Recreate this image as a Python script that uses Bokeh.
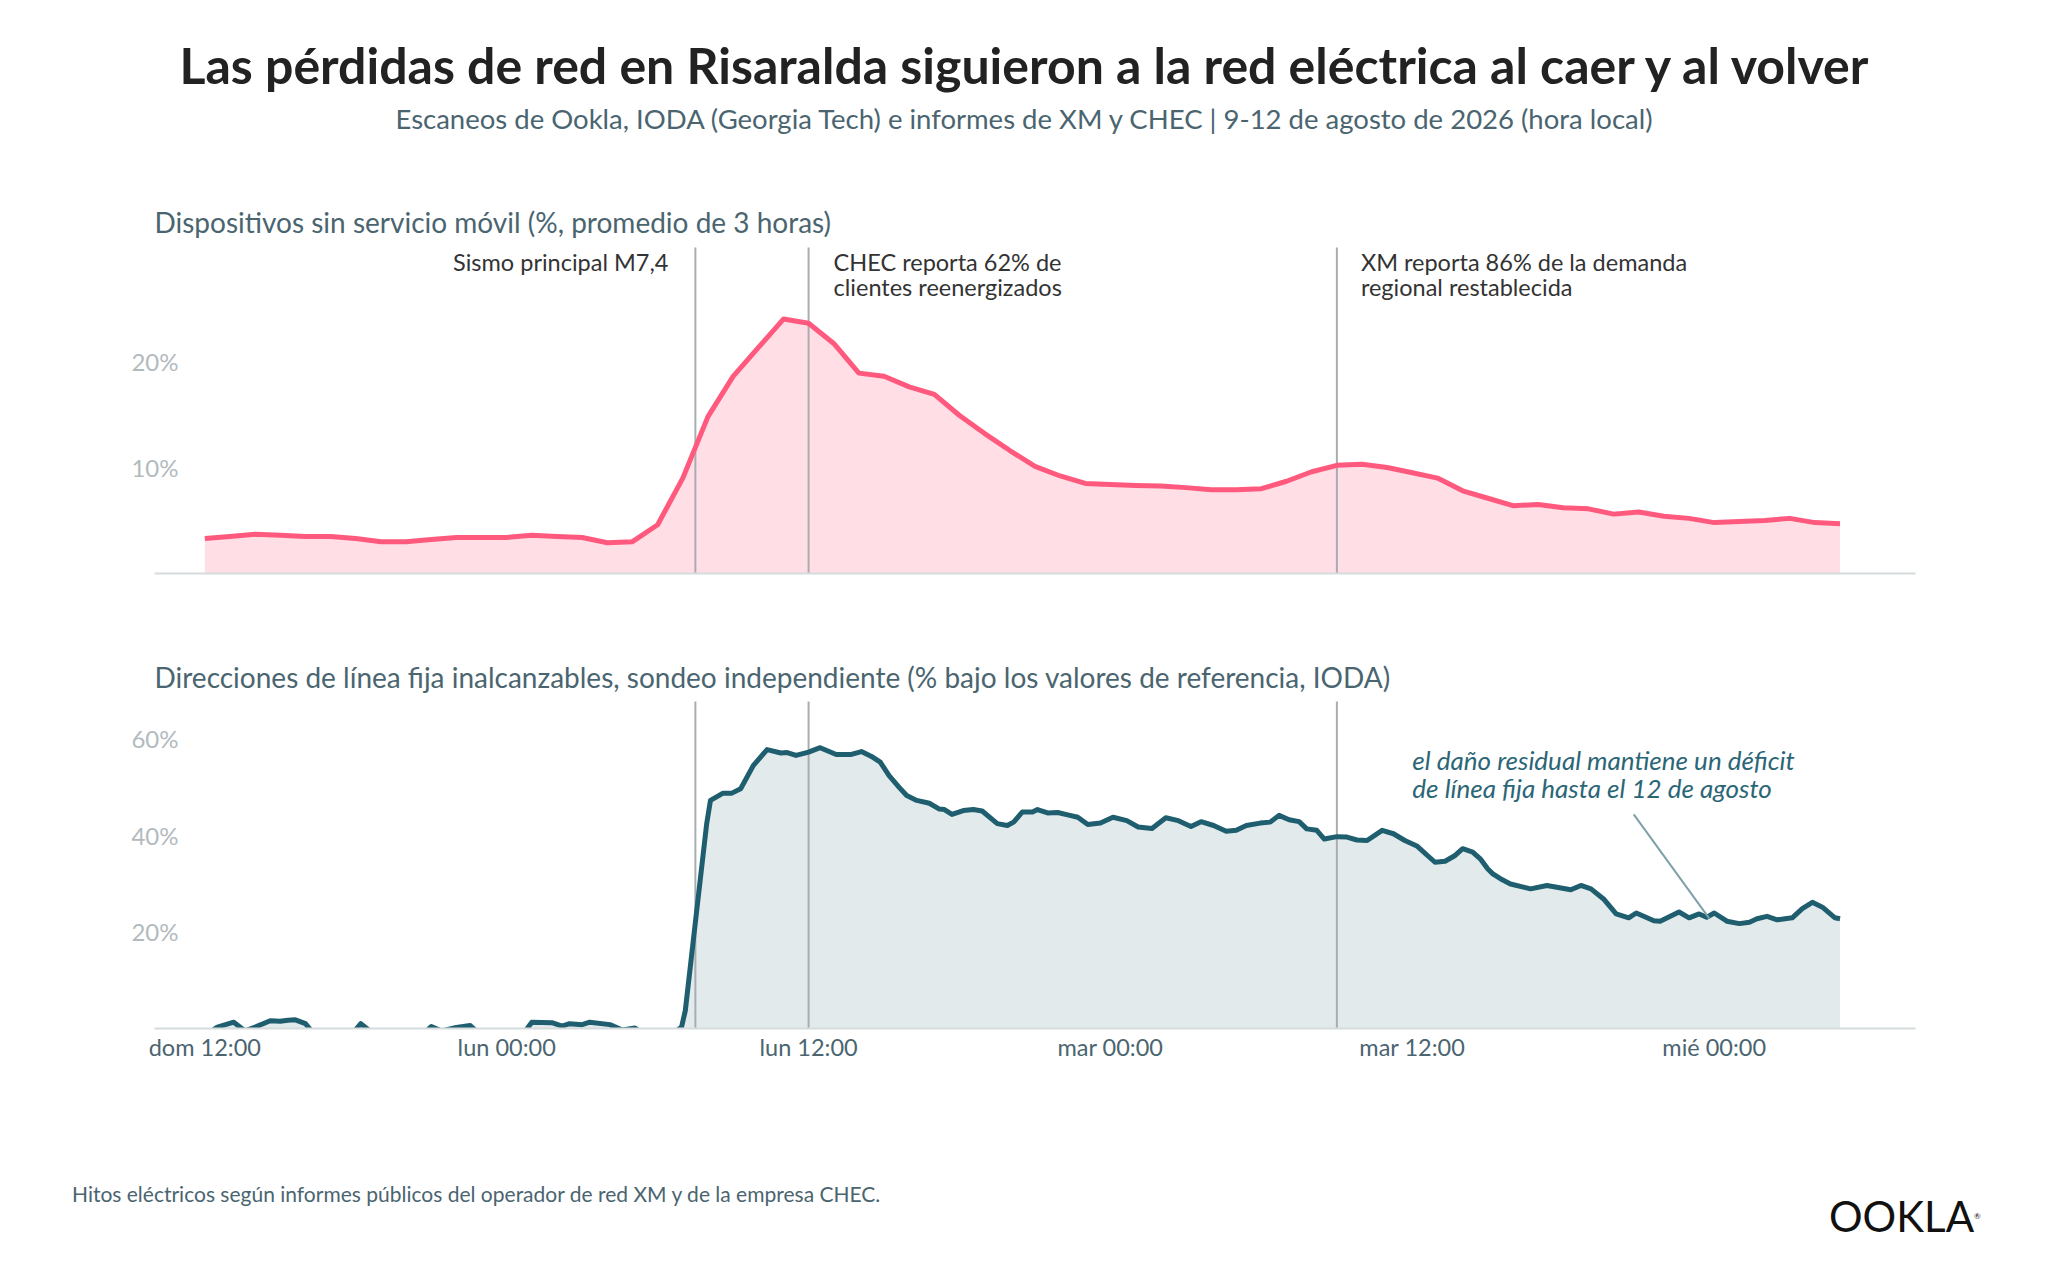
import math
from bokeh.plotting import figure
from bokeh.layouts import column
from bokeh.models import Div, Label, FixedTicker, PrintfTickFormatter, Range1d
from bokeh.embed import file_html
from bokeh.resources import INLINE

# ---------------- texts ----------------
TITLE = "Las pérdidas de red en Risaralda siguieron a la red eléctrica al caer y al volver"
SUBTITLE = "Escaneos de Ookla, IODA (Georgia Tech) e informes de XM y CHEC | 9-12 de agosto de 2026 (hora local)"
PANEL1_TITLE = "Dispositivos sin servicio móvil (%, promedio de 3 horas)"
PANEL2_TITLE = "Direcciones de línea fija inalcanzables, sondeo independiente (% bajo los valores de referencia, IODA)"
FOOTNOTE = "Hitos eléctricos según informes públicos del operador de red XM y de la empresa CHEC."
NOTE_LINES = ["el daño residual mantiene un déficit", "de línea fija hasta el 12 de agosto"]

# ---------------- data ----------------
# hours since Sunday 9 Aug 12:00 (local time)
tick_hours = [0, 12, 24, 36, 48, 60]
tick_labels = ["dom 12:00", "lun 00:00", "lun 12:00", "mar 00:00", "mar 12:00", "mié 00:00"]

event_hours = [19.5, 24, 45]
event_texts = [
    ["Sismo principal M7,4"],
    ["CHEC reporta 62% de", "clientes reenergizados"],
    ["XM reporta 86% de la demanda", "regional restablecida"],
]

mobile_hours = list(range(66))
mobile_pct = [
    3.3, 3.5, 3.7, 3.6, 3.5, 3.5, 3.3, 3.0, 3.0, 3.2,
    3.4, 3.4, 3.4, 3.6, 3.5, 3.4, 2.9, 3.0, 4.6, 9.0,
    14.8, 18.6, 21.3, 24.0, 23.6, 21.7, 18.9, 18.6, 17.6, 16.9,
    14.9, 13.2, 11.6, 10.1, 9.2, 8.5, 8.4, 8.3, 8.25, 8.1,
    7.9, 7.9, 8.0, 8.7, 9.6, 10.2, 10.3, 10.0, 9.5, 9.0,
    7.8, 7.1, 6.4, 6.5, 6.2, 6.1, 5.6, 5.8, 5.4, 5.2,
    4.8, 4.9, 5.0, 5.2, 4.8, 4.7,
]

fixed_hours = [
    0.0, 0.5, 1.15, 1.6, 2.0, 2.6, 3.0, 3.3, 3.6, 4.0,
    4.4, 5.8, 6.2, 6.8, 8.6, 9.0, 9.4, 10.0, 10.55, 11.0,
    12.6, 13.0, 13.8, 14.2, 14.5, 15.0, 15.3, 16.1, 16.6, 17.1,
    17.5, 18.5, 18.95, 19.1, 19.5, 19.95, 20.1, 20.6, 20.95, 21.3,
    21.8, 22.35, 22.9, 23.15, 23.5, 24.0, 24.46, 25.1, 25.7, 26.1,
    26.5, 26.85, 27.2, 27.6, 27.9, 28.3, 28.8, 29.2, 29.4, 29.7,
    30.15, 30.55, 30.9, 31.5, 31.9, 32.15, 32.5, 32.9, 33.1, 33.5,
    33.9, 34.3, 34.7, 35.1, 35.6, 36.1, 36.65, 37.1, 37.65, 38.2,
    38.7, 39.2, 39.6, 40.1, 40.6, 41.0, 41.4, 41.95, 42.35, 42.7,
    43.1, 43.5, 43.8, 44.2, 44.5, 45.0, 45.4, 45.8, 46.2, 46.8,
    47.25, 47.7, 48.2, 48.6, 48.9, 49.3, 49.7, 50.0, 50.4, 50.7,
    51.0, 51.2, 51.5, 51.9, 52.7, 53.35, 54.3, 54.7, 55.1, 55.6,
    56.1, 56.6, 56.9, 57.6, 57.85, 58.6, 59.0, 59.4, 59.7, 60.0,
    60.5, 61.0, 61.4, 61.7, 62.1, 62.5, 63.1, 63.5, 63.9, 64.3,
    64.8, 65.0,
]
fixed_pct = [
    -1.5, 0.3, 1.3, -0.5, 0.3, 1.6, 1.5, 1.7, 1.8, 1.0,
    -1.5, -1.5, 1.0, -1.5, -1.5, 0.4, -0.5, 0.2, 0.6, -1.5,
    -1.5, 1.3, 1.2, 0.5, 1.0, 0.8, 1.3, 0.8, -0.3, 0.1,
    -1.5, -1.5, 0.3, 3.7, 22.0, 42.4, 47.2, 48.7, 48.7, 49.6,
    54.4, 57.7, 57.0, 57.1, 56.5, 57.2, 58.1, 56.7, 56.7, 57.3,
    56.3, 55.1, 52.3, 49.9, 48.2, 47.2, 46.6, 45.4, 45.3, 44.3,
    45.1, 45.3, 45.0, 42.4, 42.0, 42.7, 44.8, 44.8, 45.3, 44.6,
    44.7, 44.2, 43.7, 42.2, 42.5, 43.7, 43.0, 41.7, 41.4, 43.6,
    43.0, 41.8, 42.8, 42.0, 40.8, 41.0, 42.0, 42.5, 42.7, 44.1,
    43.2, 42.8, 41.3, 41.0, 39.2, 39.7, 39.6, 39.0, 38.9, 41.0,
    40.3, 38.9, 37.7, 35.8, 34.4, 34.6, 35.8, 37.2, 36.5, 35.1,
    33.0, 32.0, 31.0, 29.9, 28.9, 29.6, 28.7, 29.6, 28.9, 26.8,
    23.7, 22.9, 23.9, 22.3, 22.2, 24.1, 22.9, 23.7, 23.0, 23.9,
    22.2, 21.7, 22.0, 22.7, 23.2, 22.5, 22.9, 24.8, 26.1, 25.1,
    22.9, 22.7,
]

# annotation geometry (bottom panel)
NOTE_X = 48.0
NOTE_Y = [55.5, 49.7]
POINTER = dict(x0=[56.8], y0=[44.3], x1=[59.8], y1=[22.8])

# ---------------- style ----------------
FONT = "Lato"
SLATE = "#4a6570"
LIGHT = "#b3babe"
PINK = "#ff5a7e"
PINK_FILL = "#ffdee6"
TEAL = "#1e5e6e"
TEAL_FILL = "#e2eaec"
VLINE = "#a9adb0"
W = 2032


def make_fig(height, y_end, border_top, border_bottom, title, title_standoff, yticks, show_x_labels):
    p = figure(width=W, height=height, x_range=Range1d(-2, 68), y_range=Range1d(0, y_end),
               output_backend="svg", toolbar_location=None, title=title,
               min_border_left=146, min_border_right=125,
               min_border_top=border_top, min_border_bottom=border_bottom,
               margin=(0, 0, 0, 0))
    p.outline_line_color = None
    p.background_fill_color = "white"
    p.border_fill_color = "white"
    p.xgrid.visible = False
    p.ygrid.visible = False
    p.title.text_font = FONT
    p.title.text_font_size = "28px"
    p.title.text_font_style = "normal"
    p.title.text_color = SLATE
    p.title.align = "left"
    p.title.offset = 0
    p.title.standoff = title_standoff

    xa = p.xaxis[0]
    xa.ticker = FixedTicker(ticks=tick_hours)
    xa.major_label_overrides = {h: l for h, l in zip(tick_hours, tick_labels)}
    xa.axis_line_color = "#d6dbdd"
    xa.axis_line_width = 2
    xa.major_tick_line_color = None
    xa.minor_tick_line_color = None
    xa.major_tick_out = 0
    xa.major_tick_in = 0
    xa.major_label_text_font = FONT
    xa.major_label_text_font_size = "23.5px"
    xa.major_label_text_color = SLATE if show_x_labels else None
    xa.major_label_standoff = 4

    ya = p.yaxis[0]
    ya.ticker = FixedTicker(ticks=yticks)
    ya.formatter = PrintfTickFormatter(format="%d%%")
    ya.axis_line_color = None
    ya.major_tick_line_color = None
    ya.minor_tick_line_color = None
    ya.major_tick_out = 0
    ya.major_tick_in = 0
    ya.major_label_standoff = -24
    ya.major_label_text_font = FONT
    ya.major_label_text_font_size = "24px"
    ya.major_label_text_color = LIGHT
    return p


# ---------------- top panel ----------------
p1 = make_fig(420, 30.75, 59, 35, PANEL1_TITLE, 17, [10, 20], False)
p1.varea(x=mobile_hours, y1=0, y2=mobile_pct, fill_color=PINK_FILL)
p1.ray(x=event_hours, y=[0] * len(event_hours), length=0, angle=math.pi / 2,
       line_color=VLINE, line_width=2)
p1.line(x=mobile_hours, y=mobile_pct, line_color=PINK, line_width=5, line_join="round")

label_offsets = [-27, 25, 24]
label_aligns = ["right", "left", "left"]
label_rows = [29.4, 27.0]
for h, lines, off, al in zip(event_hours, event_texts, label_offsets, label_aligns):
    for i, t in enumerate(lines):
        p1.add_layout(Label(x=h, y=label_rows[i], x_offset=off, text=t, text_align=al,
                            text_baseline="middle", text_font=FONT, text_font_size="23.5px",
                            text_color="#333333"))

# ---------------- bottom panel ----------------
p2 = make_fig(480, 67.66, 93, 60, PANEL2_TITLE, 15, [20, 40, 60], True)
p2.varea(x=fixed_hours, y1=0, y2=fixed_pct, fill_color=TEAL_FILL)
p2.ray(x=event_hours, y=[0] * len(event_hours), length=0, angle=math.pi / 2,
       line_color=VLINE, line_width=2)
p2.line(x=fixed_hours, y=fixed_pct, line_color=TEAL, line_width=5, line_join="round")
p2.segment(line_color="#7fa0a8", line_width=2, **POINTER)
for t, y in zip(NOTE_LINES, NOTE_Y):
    p2.add_layout(Label(x=NOTE_X, y=y, text=t, text_align="left", text_baseline="middle",
                        text_font=FONT, text_font_size="26px", text_font_style="italic",
                        text_color="#2b6677"))

# ---------------- header / footer ----------------
header = Div(width=W, height=180, margin=(0, 0, 0, 0), text=(
    f'<div style="position:relative;width:{W}px;height:180px;font-family:Lato;">'
    f'<div style="position:absolute;left:0;top:26px;width:{W}px;text-align:center;white-space:nowrap;'
    f'font-size:50px;font-weight:700;line-height:62px;color:#222222;">{TITLE}</div>'
    f'<div style="position:absolute;left:0;top:94px;width:{W}px;text-align:center;white-space:nowrap;'
    f'font-size:27.5px;line-height:34px;color:{SLATE};">{SUBTITLE}</div>'
    '</div>'))

footer = Div(width=W, height=167, margin=(0, 0, 0, 0), text=(
    f'<div style="position:relative;width:{W}px;height:167px;font-family:Lato;">'
    f'<div style="position:absolute;left:64px;top:94px;white-space:nowrap;font-size:21px;'
    f'line-height:24px;color:{SLATE};">{FOOTNOTE}</div>'
    '<div style="position:absolute;left:1821px;top:107px;white-space:nowrap;font-size:42px;'
    'line-height:42px;font-weight:400;color:#111111;letter-spacing:0px;">OOKLA'
    '<span style="font-size:8px;vertical-align:top;">®</span></div>'
    '</div>'))

layout = column(header, p1, p2, footer, spacing=0, margin=(8, 0, 0, 8))

with open("out.html", "w") as f:
    f.write(file_html(layout, INLINE))
